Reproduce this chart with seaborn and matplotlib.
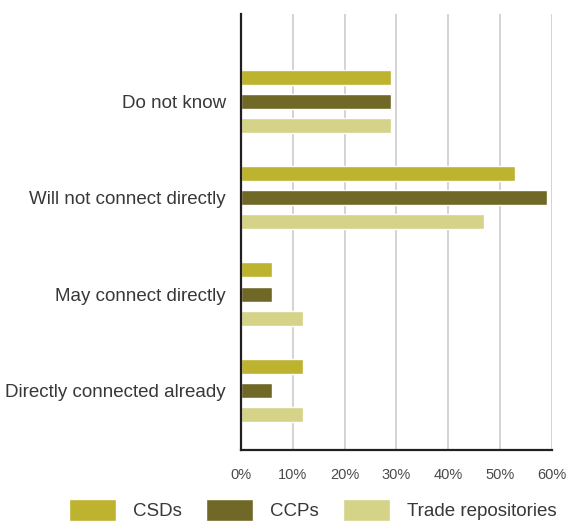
import matplotlib
matplotlib.use("Agg")
import matplotlib.pyplot as plt
import seaborn as sns
import pandas as pd

# data
categories = ["Do not know", "Will not connect directly", "May connect directly", "Directly connected already"]
series = ["CSDs", "CCPs", "Trade repositories"]
csds = [29, 53, 6, 12]
ccps = [29, 59, 6, 6]
trade_repos = [29, 47, 12, 12]
xticks = [0, 10, 20, 30, 40, 50, 60]

colors = ["#bdb32f", "#706826", "#d4d388"]

rows = []
for name, vals in zip(series, [csds, ccps, trade_repos]):
    for c, v in zip(categories, vals):
        rows.append({"category": c, "series": name, "value": v})
df = pd.DataFrame(rows)

sns.set_style("white")
plt.rcParams["font.family"] = ["Liberation Sans", "DejaVu Sans"]

fig = plt.figure(figsize=(5.74, 5.32), dpi=100)
ax = fig.add_axes([241 / 574, 82 / 532, 310.7 / 574, 436 / 532])

sns.barplot(data=df, y="category", x="value", hue="series", order=categories,
            hue_order=series, palette=colors, orient="h", width=0.75, gap=0.376,
            saturation=1, ax=ax, legend=True)

ax.set_xlim(0, 60)
ax.set_ylim(3.62, -0.909)
ax.set_xticks(xticks)
ax.set_xticklabels([f"{t}%" for t in xticks], fontsize=10.5, color="#4a4a4a")
ax.tick_params(axis="x", length=0, pad=13)
ax.tick_params(axis="y", length=0, pad=11, labelsize=13.5, labelcolor="#383838")
ax.set_xlabel("")
ax.set_ylabel("")
ax.xaxis.grid(True, color="#d0d0d0", linewidth=1.3)
ax.set_axisbelow(True)
for s in ["top", "right"]:
    ax.spines[s].set_visible(False)
for s in ["left", "bottom"]:
    ax.spines[s].set_color("#231f20")
    ax.spines[s].set_linewidth(1.6)

handles, labels = ax.get_legend_handles_labels()
ax.get_legend().remove()
fig.legend(handles, labels, loc="upper left", bbox_to_anchor=(58 / 574, 44 / 532),
           ncol=3, frameon=False, fontsize=13.5, handlelength=2.5, handleheight=1.4,
           handletextpad=0.9, columnspacing=1.3, labelcolor="#383838",
           borderaxespad=0.2)

fig.savefig("out.png", dpi=100)
